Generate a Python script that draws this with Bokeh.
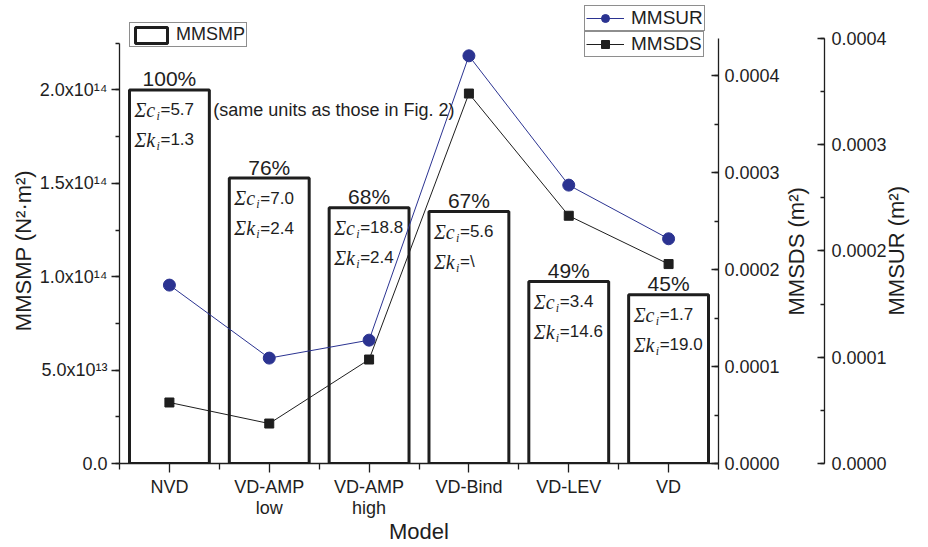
import math
from bokeh.plotting import figure
from bokeh.models import (ColumnDataSource, Range1d, LinearAxis, FixedTicker, Legend,
                          LegendItem, PrintfTickFormatter)
from bokeh.core.properties import value
from bokeh.embed import file_html
from bokeh.resources import INLINE

# ---------------- data ----------------
categories = ["NVD", "VD-AMP\nlow", "VD-AMP\nhigh", "VD-Bind", "VD-LEV", "VD"]
mmsmp = [2.00e14, 1.528e14, 1.369e14, 1.349e14, 0.974e14, 0.903e14]
mmsur = [0.0001679, 0.0000992, 0.0001161, 0.0003837, 0.0002620, 0.0002115]
mmsds = [0.0000629, 0.0000412, 0.0001072, 0.0003814, 0.0002554, 0.0002056]
percent_labels = ["100%", "76%", "68%", "67%", "49%", "45%"]
sum_c = ["5.7", "7.0", "18.8", "5.6", "3.4", "1.7"]
sum_k = ["1.3", "2.4", "2.4", "\\", "14.6", "19.0"]
note_text = "(same units as those in Fig. 2)"
left_ticks = [0, 5e13, 1e14, 1.5e14, 2e14]
left_tick_labels = ["0.0", "5.0x10\u00b9\u00b3", "1.0x10\u00b9\u2074", "1.5x10\u00b9\u2074", "2.0x10\u00b9\u2074"]
right_ticks = [0.0, 0.0001, 0.0002, 0.0003, 0.0004]
left_title = "MMSMP (N\u00b2\u00b7m\u00b2)"
sds_title = "MMSDS (m\u00b2)"
sur_title = "MMSUR (m\u00b2)"
x_title = "Model"

# ---------------- styles / layout ----------------
SANS = "Liberation Sans"
SERIF = "Liberation Serif"
INK = "#1e1e1e"
BLUE = "#2b3391"
BAR_W = 0.8
LEFT_MAX, SDS_MAX, SUR_MAX = 2.468e14, 4.7526e-4, 4.3388e-4
LEFT_TITLE_AT, SDS_TITLE_AT, SUR_TITLE_AT = 1.14e14, 1.5258e-4, 1.393e-4

xs = list(range(len(categories)))
src = ColumnDataSource(dict(
    x=xs,
    left=[x - BAR_W / 2 for x in xs],
    right=[x + BAR_W / 2 for x in xs],
    top=mmsmp,
    sur=mmsur,
    sds=mmsds,
    pct=percent_labels,
    cval=["=" + v for v in sum_c],
    kval=["=" + v for v in sum_k],
))

p = figure(width=928, height=547, output_backend="svg", toolbar_location=None,
           x_range=Range1d(-0.5, 5.5), y_range=Range1d(0, LEFT_MAX),
           min_border_left=119, min_border_right=210, min_border_top=2, min_border_bottom=84)
p.extra_y_ranges = {"sds": Range1d(0, SDS_MAX), "sur": Range1d(0, SUR_MAX)}
p.xgrid.visible = False
p.ygrid.visible = False
p.outline_line_color = None
p.background_fill_color = "white"
p.border_fill_color = "white"

# bars
bars = p.vbar(x="x", top="top", bottom=0, width=BAR_W, source=src,
              fill_color="white", line_color=INK, line_width=3)

# series
sur_line = p.line("x", "sur", source=src, y_range_name="sur", line_color=BLUE, line_width=1)
sur_pts = p.scatter("x", "sur", source=src, y_range_name="sur", marker="circle", size=12,
                    fill_color=BLUE, line_color=BLUE)
sds_line = p.line("x", "sds", source=src, y_range_name="sds", line_color=INK, line_width=1)
sds_pts = p.scatter("x", "sds", source=src, y_range_name="sds", marker="square", size=9,
                    fill_color=INK, line_color=INK)

# percentage labels
p.text(x="x", y="top", text="pct", source=src, text_align="center", text_baseline="middle",
       y_offset=-11, text_font=value(SANS), text_font_size="21px", text_color=INK)

# sum annotations
for row, (col, sym) in enumerate((("cval", "\u03a3c"), ("kval", "\u03a3k"))):
    dy = 20 + row * 30
    p.text(x="left", y="top", text=value(sym), source=src, x_offset=5, y_offset=dy,
           text_align="left", text_baseline="middle", text_font=value(SERIF),
           text_font_style="italic", text_font_size="20px", text_color=INK)
    p.text(x="left", y="top", text=value("i"), source=src, x_offset=27, y_offset=dy + 6,
           text_align="left", text_baseline="middle", text_font=value(SERIF),
           text_font_style="italic", text_font_size="12px", text_color=INK)
    p.text(x="left", y="top", text=col, source=src, x_offset=31, y_offset=dy,
           text_align="left", text_baseline="middle", text_font=value(SANS),
           text_font_size="17px", text_color=INK)

# note
p.text(x=[src.data["right"][0]], y=[mmsmp[0]], text=[note_text], x_offset=4, y_offset=20,
       text_align="left", text_baseline="middle", text_font=value(SANS),
       text_font_size="18px", text_color=INK)


def style_axis(ax):
    ax.axis_line_color = INK
    ax.axis_line_width = 1.3
    ax.major_tick_line_color = INK
    ax.minor_tick_line_color = INK
    ax.major_tick_line_width = 1.3
    ax.minor_tick_line_width = 1.3
    ax.major_label_text_font = SANS
    ax.major_label_text_font_size = "18px"
    ax.major_label_text_color = INK
    ax.axis_label_text_font = SANS
    ax.axis_label_text_font_size = "22px"
    ax.axis_label_text_font_style = "normal"
    ax.axis_label_text_color = INK


def title_axis(range_name, at, text, standoff, orient):
    kw = {} if range_name is None else {"y_range_name": range_name}
    ax = LinearAxis(ticker=FixedTicker(ticks=[at], minor_ticks=[]), **kw)
    ax.axis_line_color = None
    ax.major_tick_line_color = None
    ax.minor_tick_line_color = None
    ax.major_tick_in = 0
    ax.major_tick_out = 0
    ax.minor_tick_in = 0
    ax.minor_tick_out = 0
    ax.major_label_overrides = {at: text}
    ax.major_label_standoff = standoff
    ax.major_label_orientation = orient
    ax.major_label_text_font = SANS
    ax.major_label_text_font_size = "22px"
    ax.major_label_text_color = INK
    return ax


# x axis
xa = p.xaxis[0]
style_axis(xa)
xa.ticker = FixedTicker(ticks=xs, minor_ticks=[x - 0.5 for x in xs] + [xs[-1] + 0.5])
xa.major_label_overrides = {x: c for x, c in zip(xs, categories)}
xa.major_tick_out = 9
xa.major_tick_in = 0
xa.minor_tick_out = 6
xa.minor_tick_in = 0
xa.major_label_standoff = 4
xa.major_label_text_line_height = 1.05
xa.axis_label = x_title
xa.axis_label_standoff = -2

# left axis
ya = p.yaxis[0]
style_axis(ya)
ya.ticker = FixedTicker(ticks=left_ticks, minor_ticks=[k * 2.5e13 for k in range(10)])
ya.major_label_overrides = {t: l for t, l in zip(left_ticks, left_tick_labels)}
ya.bounds = (0, 2.25e14)
ya.major_tick_out = 8
ya.major_tick_in = 0
ya.minor_tick_out = 4
ya.minor_tick_in = 0
ya.major_label_standoff = 4
p.add_layout(title_axis(None, LEFT_TITLE_AT, left_title, 0, "vertical"), "left")

right_minor = [k * 0.00005 for k in range(9)]

sds_axis = LinearAxis(y_range_name="sds",
                      ticker=FixedTicker(ticks=right_ticks, minor_ticks=right_minor),
                      formatter=PrintfTickFormatter(format="%.4f"))
style_axis(sds_axis)
sds_axis.bounds = (0, 0.000438)
sds_axis.major_tick_in = 7
sds_axis.major_tick_out = 0
sds_axis.minor_tick_in = 4
sds_axis.minor_tick_out = 0
sds_axis.major_label_standoff = 6
p.add_layout(sds_axis, "right")
p.add_layout(title_axis("sds", SDS_TITLE_AT, sds_title, 14, math.pi / 2), "right")

spacer = LinearAxis(y_range_name="sur", ticker=FixedTicker(ticks=[], minor_ticks=[]))
spacer.axis_line_color = None
spacer.major_tick_line_color = None
spacer.minor_tick_line_color = None
spacer.major_tick_out = 24
spacer.major_tick_in = 0
spacer.minor_tick_out = 0
spacer.major_label_standoff = 0
p.add_layout(spacer, "right")

sur_axis = LinearAxis(y_range_name="sur",
                      ticker=FixedTicker(ticks=right_ticks, minor_ticks=right_minor),
                      formatter=PrintfTickFormatter(format="%.4f"))
style_axis(sur_axis)
sur_axis.bounds = (0, 0.0004)
sur_axis.major_tick_in = 7
sur_axis.major_tick_out = 0
sur_axis.minor_tick_in = 4
sur_axis.minor_tick_out = 0
sur_axis.major_label_standoff = 7
p.add_layout(sur_axis, "right")
p.add_layout(title_axis("sur", SUR_TITLE_AT, sur_title, 7, -3 * math.pi / 2), "right")


# legends
def make_legend(label, renderers, loc, gw, standoff, lsize):
    lg = Legend(items=[LegendItem(label=label, renderers=renderers)], location=loc,
                orientation="vertical", border_line_color=INK, border_line_width=1,
                background_fill_color="white", background_fill_alpha=1.0,
                padding=1, spacing=0, margin=0, glyph_width=gw, glyph_height=20,
                label_height=20, label_standoff=standoff, label_text_font=SANS,
                label_text_font_size=lsize, label_text_color=INK)
    p.add_layout(lg)
    return lg


make_legend("MMSMP", [bars], (10, 416), 40, 5, "18px")
make_legend("MMSUR", [sur_line, sur_pts], (465, 432), 38, 7, "19px")
make_legend("MMSDS", [sds_line, sds_pts], (465, 406), 38, 7, "19px")

open("out.html", "w").write(file_html(p, INLINE))
